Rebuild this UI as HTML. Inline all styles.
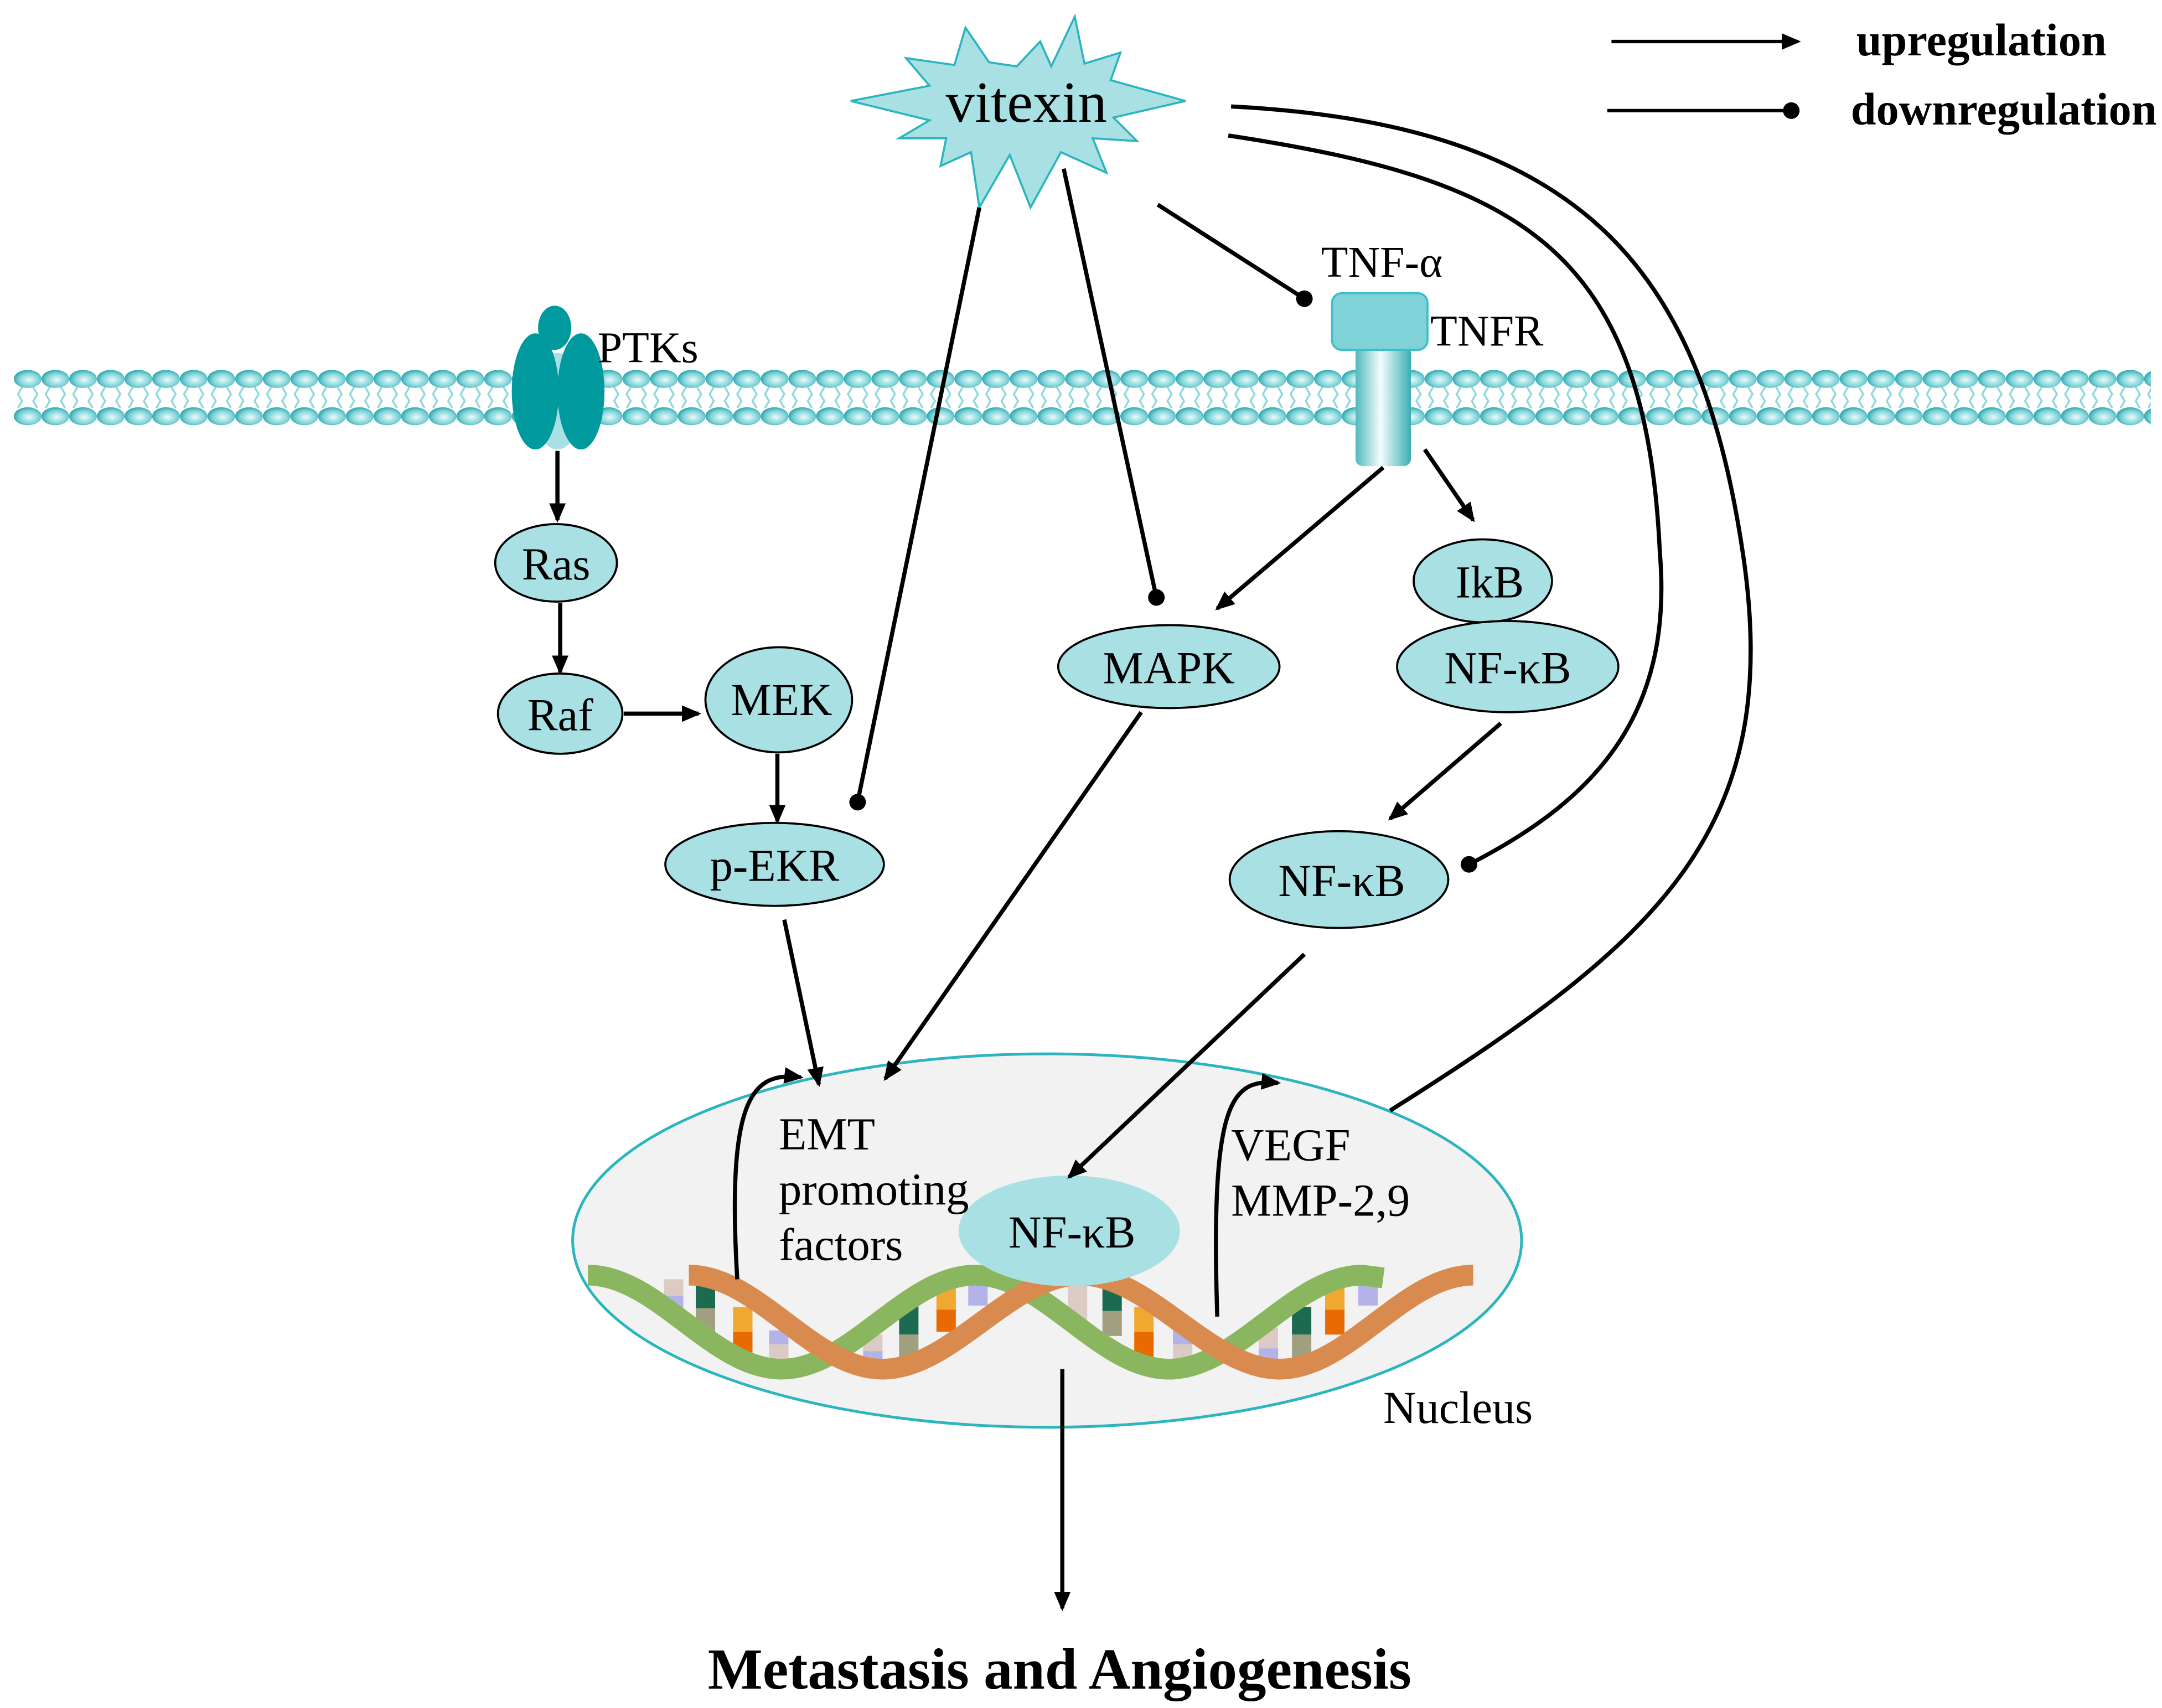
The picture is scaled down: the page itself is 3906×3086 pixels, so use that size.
<!DOCTYPE html>
<html><head><meta charset="utf-8"><style>
html,body{margin:0;padding:0;background:#fff;}
svg{display:block;}
text{font-family:"Liberation Serif",serif;fill:#000;}
</style></head><body>
<svg width="3906" height="3086" viewBox="0 0 1563 1235" preserveAspectRatio="none" xmlns="http://www.w3.org/2000/svg">
<defs>
<radialGradient id="hg" cx="0.55" cy="0.55" r="0.6">
<stop offset="0" stop-color="#e8fbfb"/><stop offset="0.6" stop-color="#7fd3d8"/><stop offset="1" stop-color="#1a9ea5"/>
</radialGradient>
<linearGradient id="stem" x1="0" x2="1" y1="0" y2="0">
<stop offset="0" stop-color="#4fb9bd"/><stop offset="0.45" stop-color="#f4fdfd"/><stop offset="1" stop-color="#3aaeb3"/>
</linearGradient>
<pattern id="mem" x="10" y="0" width="20" height="1235" patternUnits="userSpaceOnUse">
<path d="M6,280 l-3,5 l3,5 l-3,5 M14,280 l3,5 l-3,5 l3,5" stroke="#8fd8dc" stroke-width="1.4" fill="none"/>
<ellipse cx="10" cy="274" rx="10" ry="6.5" fill="url(#hg)"/>
<ellipse cx="10" cy="301" rx="10" ry="6.5" fill="url(#hg)"/>
</pattern>
<marker id="ar" markerWidth="14" markerHeight="12" refX="12" refY="6" orient="auto" markerUnits="userSpaceOnUse" viewBox="0 0 14 12">
<path d="M0,0 L14,6 L0,12 z" fill="#000"/></marker>
<marker id="dt" markerWidth="14" markerHeight="14" refX="7" refY="7" orient="auto" markerUnits="userSpaceOnUse">
<circle cx="7" cy="7" r="6" fill="#000"/></marker>
</defs>

<rect x="10" y="262" width="1545" height="50" fill="url(#mem)"/>

<!-- PTKs -->
<ellipse cx="403" cy="290" rx="18" ry="35" fill="#a8e0e3"/>
<ellipse cx="387" cy="283" rx="17" ry="42" fill="#00999e"/>
<ellipse cx="420" cy="283" rx="17" ry="42" fill="#00999e"/>
<ellipse cx="401" cy="237" rx="12" ry="16" fill="#00999e"/>
<text x="432" y="262" font-size="32">PTKs</text>

<!-- TNFR -->
<rect x="980" y="250" width="40" height="87" rx="5" fill="url(#stem)"/>
<rect x="963" y="212" width="69" height="41" rx="7" fill="#7fd3d8" stroke="#3cbfc6" stroke-width="1.5"/>
<text x="955" y="200" font-size="32">TNF-α</text>
<text x="1034" y="250" font-size="32">TNFR</text>

<!-- vitexin star -->
<polygon points="735,48 752,30 760,48 777,12 784,46 810,38 803,58 857,73 805,85 822,102 790,100 800,125 767,110 745,150 730,112 708,150 702,110 680,120 684,100 650,100 672,87 615,73 672,62 655,42 690,47 698,20 715,45"
 fill="#a8e0e3" stroke="#2cb5be" stroke-width="1.5"/>
<text x="742" y="88" font-size="42" text-anchor="middle">vitexin</text>

<!-- legend -->
<line x1="1165" y1="30" x2="1300" y2="30" stroke="#000" stroke-width="2.5" marker-end="url(#ar)"/>
<text x="1342" y="40" font-size="33" font-weight="bold">upregulation</text>
<line x1="1162" y1="80" x2="1295" y2="80" stroke="#000" stroke-width="2.5" marker-end="url(#dt)"/>
<text x="1338" y="90" font-size="33" font-weight="bold">downregulation</text>

<!-- nucleus -->
<ellipse cx="757" cy="897" rx="343" ry="135" fill="#f2f2f2" stroke="#2cb5be" stroke-width="2"/>

<g>
<rect x="480" y="925" width="14" height="28" fill="#dccbc4"/><rect x="480" y="937" width="14" height="16" fill="#b3b3ea"/>
<rect x="503" y="928" width="14" height="18" fill="#1c6b50"/><rect x="503" y="946" width="14" height="20" fill="#a0a080"/>
<rect x="530" y="945" width="14" height="18" fill="#f0a830"/><rect x="530" y="963" width="14" height="16" fill="#e86a00"/>
<rect x="556" y="962" width="14" height="25" fill="#dccbc4"/><rect x="556" y="962" width="14" height="10" fill="#b3b3ea"/>
<rect x="624" y="965" width="14" height="25" fill="#dccbc4"/><rect x="624" y="977" width="14" height="14" fill="#b3b3ea"/>
<rect x="650" y="943" width="14" height="22" fill="#1c6b50"/><rect x="650" y="965" width="14" height="18" fill="#a0a080"/>
<rect x="677" y="930" width="14" height="18" fill="#f0a830"/><rect x="677" y="947" width="14" height="16" fill="#e86a00"/>
<rect x="700" y="922" width="14" height="22" fill="#b3b3ea"/>
<rect x="772" y="925" width="14" height="30" fill="#dccbc4"/>
<rect x="797" y="928" width="14" height="20" fill="#1c6b50"/><rect x="797" y="948" width="14" height="18" fill="#a0a080"/>
<rect x="820" y="945" width="14" height="18" fill="#f0a830"/><rect x="820" y="963" width="14" height="18" fill="#e86a00"/>
<rect x="848" y="960" width="14" height="28" fill="#dccbc4"/><rect x="848" y="960" width="14" height="12" fill="#b3b3ea"/>
<rect x="910" y="960" width="14" height="28" fill="#dccbc4"/><rect x="910" y="975" width="14" height="14" fill="#b3b3ea"/>
<rect x="934" y="945" width="14" height="20" fill="#1c6b50"/><rect x="934" y="965" width="14" height="18" fill="#a0a080"/>
<rect x="958" y="930" width="14" height="18" fill="#f0a830"/><rect x="958" y="947" width="14" height="18" fill="#e86a00"/>
<rect x="982" y="922" width="14" height="22" fill="#b3b3ea"/>
</g>
<path d="M425,922 C475,922 515,990 565,990 S655,922 705,922 S795,990 845,990 S935,922 985,922 L1000,924" fill="none" stroke="#8ab660" stroke-width="15"/>
<path d="M498,922 C548,922 588,990 638,990 S731,922 781,922 S875,990 925,990 S1015,922 1065,922" fill="none" stroke="#d98b4f" stroke-width="15"/>

<ellipse cx="773" cy="890" rx="80" ry="40" fill="#a8e0e3"/>
<text x="775" y="902" font-size="33" text-anchor="middle">NF-κB</text>

<g fill="#a8e0e3" stroke="#000" stroke-width="1.5">
<ellipse cx="402" cy="407" rx="44" ry="28"/>
<ellipse cx="405" cy="516" rx="45" ry="29"/>
<ellipse cx="563" cy="506" rx="53" ry="38"/>
<ellipse cx="560" cy="625" rx="79" ry="30"/>
<ellipse cx="845" cy="482" rx="80" ry="30"/>
<ellipse cx="1072" cy="420" rx="50" ry="30"/>
<ellipse cx="1090" cy="482" rx="80" ry="33"/>
<ellipse cx="968" cy="636" rx="79" ry="35"/>
</g>
<g font-size="33" text-anchor="middle">
<text x="402" y="419">Ras</text>
<text x="405" y="528">Raf</text>
<text x="565" y="517">MEK</text>
<text x="560" y="637">p-EKR</text>
<text x="845" y="494">MAPK</text>
<text x="1077" y="432">IkB</text>
<text x="1090" y="494">NF-κB</text>
<text x="970" y="648">NF-κB</text>
</g>

<g stroke="#000" stroke-width="3" fill="none">
<line x1="403" y1="326" x2="403" y2="376" marker-end="url(#ar)"/>
<line x1="405" y1="436" x2="405" y2="486" marker-end="url(#ar)"/>
<line x1="451" y1="516" x2="505" y2="516" marker-end="url(#ar)"/>
<line x1="562" y1="545" x2="562" y2="594" marker-end="url(#ar)"/>
<line x1="708" y1="150" x2="620" y2="580" marker-end="url(#dt)"/>
<line x1="769" y1="122" x2="836" y2="432" marker-end="url(#dt)"/>
<line x1="837" y1="148" x2="943" y2="216" marker-end="url(#dt)"/>
<line x1="1000" y1="338" x2="880" y2="440" marker-end="url(#ar)"/>
<line x1="1030" y1="325" x2="1065" y2="376" marker-end="url(#ar)"/>
<line x1="1085" y1="523" x2="1005" y2="592" marker-end="url(#ar)"/>
<path d="M888,98 C1100,130 1190,180 1200,400 C1210,520 1150,580 1062,625" marker-end="url(#dt)"/>
<path d="M890,77 C1150,90 1230,200 1260,400 C1290,600 1200,680 1005,803"/>
<line x1="567" y1="665" x2="592" y2="784" marker-end="url(#ar)"/>
<line x1="825" y1="515" x2="640" y2="780" marker-end="url(#ar)"/>
<line x1="943" y1="690" x2="773" y2="851" marker-end="url(#ar)"/>
<path d="M533,925 C525,790 545,775 579,779" marker-end="url(#ar)"/>
<path d="M880,952 C875,795 890,780 924,783" marker-end="url(#ar)"/>
<line x1="768" y1="990" x2="768" y2="1163" marker-end="url(#ar)"/>
</g>

<g font-size="33">
<text x="563" y="831">EMT</text>
<text x="563" y="871">promoting</text>
<text x="563" y="911">factors</text>
<text x="890" y="839">VEGF</text>
<text x="890" y="879">MMP-2,9</text>
<text x="1000" y="1029">Nucleus</text>
</g>
<text x="766" y="1221" font-size="42" font-weight="bold" text-anchor="middle">Metastasis and Angiogenesis</text>
</svg>
</body></html>
